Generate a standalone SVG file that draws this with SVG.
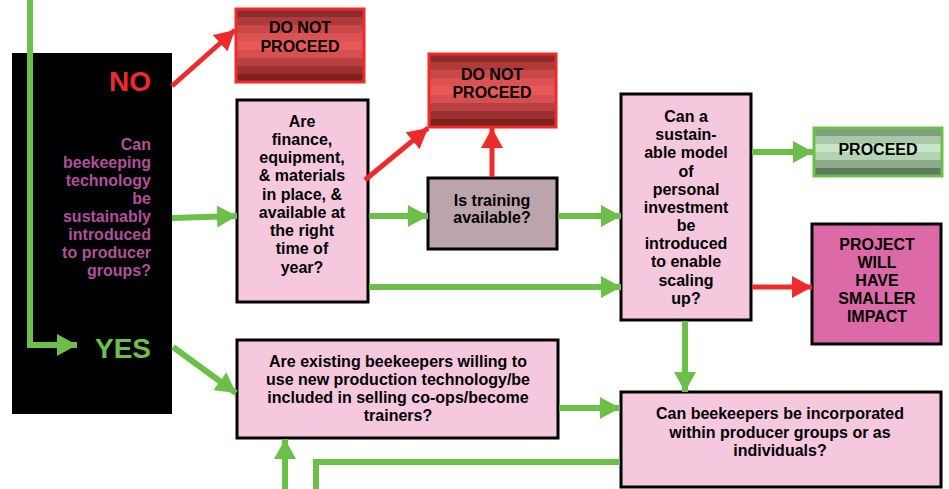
<svg xmlns="http://www.w3.org/2000/svg" width="949" height="489" viewBox="0 0 949 489">
<style>
  text { font-family: "Liberation Sans", Arial, sans-serif; font-weight: bold; }
  .t { font-size: 16px; fill: #000; text-anchor: middle; }
  .q { font-size: 16px; fill: #B0509A; text-anchor: end; }
  .pink { fill: #F6C8DD; stroke: #000; stroke-width: 3; }
  .g { stroke: #6CBF48; stroke-width: 6; fill: none; }
  .r { stroke: #EE2A2A; stroke-width: 5; fill: none; }
</style>
<defs>
  <linearGradient id="dnp" x1="0" y1="0" x2="0" y2="1">
    <stop offset="0" stop-color="#8C2B2B"/><stop offset="0.11" stop-color="#8C2B2B"/>
    <stop offset="0.11" stop-color="#B03A3A"/><stop offset="0.22" stop-color="#B03A3A"/>
    <stop offset="0.22" stop-color="#C94848"/><stop offset="0.33" stop-color="#C94848"/>
    <stop offset="0.33" stop-color="#DB5252"/><stop offset="0.44" stop-color="#DB5252"/>
    <stop offset="0.44" stop-color="#E85858"/><stop offset="0.56" stop-color="#E85858"/>
    <stop offset="0.56" stop-color="#D65050"/><stop offset="0.67" stop-color="#D65050"/>
    <stop offset="0.67" stop-color="#B94040"/><stop offset="0.78" stop-color="#B94040"/>
    <stop offset="0.78" stop-color="#9C3030"/><stop offset="0.89" stop-color="#9C3030"/>
    <stop offset="0.89" stop-color="#7E2020"/><stop offset="1" stop-color="#7E2020"/>
  </linearGradient>
  <linearGradient id="prc" x1="0" y1="0" x2="0" y2="1">
    <stop offset="0" stop-color="#7F9F80"/><stop offset="0.17" stop-color="#7F9F80"/>
    <stop offset="0.17" stop-color="#A8C8A8"/><stop offset="0.33" stop-color="#A8C8A8"/>
    <stop offset="0.33" stop-color="#C8E6C9"/><stop offset="0.5" stop-color="#C8E6C9"/>
    <stop offset="0.5" stop-color="#B3D3B3"/><stop offset="0.67" stop-color="#B3D3B3"/>
    <stop offset="0.67" stop-color="#8BAB8B"/><stop offset="0.83" stop-color="#8BAB8B"/>
    <stop offset="0.83" stop-color="#5F7A60"/><stop offset="1" stop-color="#5F7A60"/>
  </linearGradient>
  <marker id="ag" markerUnits="userSpaceOnUse" markerWidth="20" markerHeight="22" refX="20" refY="11" orient="auto">
    <path d="M0,0 L20,11 L0,22 z" fill="#6CBF48"/>
  </marker>
  <marker id="ar" markerUnits="userSpaceOnUse" markerWidth="20" markerHeight="22" refX="20" refY="11" orient="auto">
    <path d="M0,0 L20,11 L0,22 z" fill="#EE2A2A"/>
  </marker>
</defs>

<g id="start">
  <rect x="12" y="53" width="160" height="361" fill="#000"/>
  <text x="151" y="91" font-size="28" fill="#EE2A2A" text-anchor="end">NO</text>
  <text class="q" x="151" y="150">Can</text>
  <text class="q" x="151" y="168">beekeeping</text>
  <text class="q" x="151" y="186">technology</text>
  <text class="q" x="151" y="204">be</text>
  <text class="q" x="151" y="222">sustainably</text>
  <text class="q" x="151" y="240">introduced</text>
  <text class="q" x="151" y="258">to producer</text>
  <text class="q" x="151" y="276">groups?</text>
  <text x="151" y="358" font-size="28" fill="#6CBF48" text-anchor="end">YES</text>
</g>

<g id="dnp1">
  <rect x="236" y="9" width="128" height="73" fill="url(#dnp)" stroke="#EE2A2A" stroke-width="3"/>
  <text class="t" x="300" y="33">DO NOT</text>
  <text class="t" x="300" y="52">PROCEED</text>
</g>

<g id="finance">
  <rect class="pink" x="237" y="100" width="131" height="202"/>
  <text class="t" x="302" y="127">Are</text>
  <text class="t" x="302" y="145">finance,</text>
  <text class="t" x="302" y="163">equipment,</text>
  <text class="t" x="302" y="181">&amp; materials</text>
  <text class="t" x="302" y="200">in place, &amp;</text>
  <text class="t" x="302" y="218">available at</text>
  <text class="t" x="302" y="236">the right</text>
  <text class="t" x="302" y="254">time of</text>
  <text class="t" x="302" y="273">year?</text>
</g>

<g id="dnp2">
  <rect x="429" y="54" width="127" height="73" fill="url(#dnp)" stroke="#EE2A2A" stroke-width="3"/>
  <text class="t" x="492" y="80">DO NOT</text>
  <text class="t" x="492" y="98">PROCEED</text>
</g>

<g id="training">
  <rect x="428" y="178" width="129" height="71" fill="#BBA4AC" stroke="#000" stroke-width="3"/>
  <text class="t" x="492" y="206">Is training</text>
  <text class="t" x="492" y="223">available?</text>
</g>

<g id="sustain">
  <rect class="pink" x="621" y="94" width="130" height="226"/>
  <text class="t" x="686" y="122">Can a</text>
  <text class="t" x="686" y="140">sustain-</text>
  <text class="t" x="686" y="158">able model</text>
  <text class="t" x="686" y="177">of</text>
  <text class="t" x="686" y="195">personal</text>
  <text class="t" x="686" y="213">investment</text>
  <text class="t" x="686" y="231">be</text>
  <text class="t" x="686" y="249">introduced</text>
  <text class="t" x="686" y="267">to enable</text>
  <text class="t" x="686" y="286">scaling</text>
  <text class="t" x="686" y="304">up?</text>
</g>

<g id="proceed">
  <rect x="814" y="128" width="128" height="48" fill="url(#prc)" stroke="#6CBF48" stroke-width="3"/>
  <text class="t" x="878" y="155">PROCEED</text>
</g>

<g id="smaller">
  <rect x="812" y="224" width="129" height="120" fill="#DD6AA8" stroke="#000" stroke-width="3"/>
  <text class="t" x="877" y="250">PROJECT</text>
  <text class="t" x="877" y="268">WILL</text>
  <text class="t" x="877" y="286">HAVE</text>
  <text class="t" x="877" y="304">SMALLER</text>
  <text class="t" x="877" y="322">IMPACT</text>
</g>

<g id="existing">
  <rect class="pink" x="237" y="340" width="321" height="98"/>
  <text class="t" x="398" y="367">Are existing beekeepers willing to</text>
  <text class="t" x="398" y="385">use new production technology/be</text>
  <text class="t" x="398" y="403">included in selling co-ops/become</text>
  <text class="t" x="398" y="421">trainers?</text>
</g>

<g id="incorporate">
  <rect class="pink" x="621" y="392" width="320" height="95"/>
  <text class="t" x="780" y="419">Can beekeepers be incorporated</text>
  <text class="t" x="780" y="438">within producer groups or as</text>
  <text class="t" x="780" y="456">individuals?</text>
</g>

<g id="connectors">
  <polyline class="g" points="30,0 30,345 77,345" marker-end="url(#ag)"/>
  <line class="r" x1="172" y1="86" x2="235" y2="30" marker-end="url(#ar)"/>
  <line class="g" x1="172" y1="218" x2="237" y2="216" marker-end="url(#ag)"/>
  <line class="r" x1="365" y1="180" x2="428" y2="128" marker-end="url(#ar)"/>
  <line class="g" x1="369" y1="216" x2="428" y2="216" marker-end="url(#ag)"/>
  <line class="r" x1="492" y1="177" x2="492" y2="128" marker-end="url(#ar)"/>
  <line class="g" x1="558" y1="216" x2="621" y2="216" marker-end="url(#ag)"/>
  <line class="g" x1="369" y1="287" x2="621" y2="287" marker-end="url(#ag)"/>
  <line class="g" x1="752" y1="152" x2="813" y2="152" marker-end="url(#ag)"/>
  <line class="r" x1="752" y1="287" x2="812" y2="287" marker-end="url(#ar)"/>
  <line class="g" x1="685" y1="321" x2="685" y2="392" marker-end="url(#ag)"/>
  <line class="g" x1="173" y1="347" x2="236" y2="393" marker-end="url(#ag)"/>
  <line class="g" x1="559" y1="408" x2="620" y2="408" marker-end="url(#ag)"/>
  <polyline class="g" points="620,462 316,462 316,489"/>
  <line class="g" x1="285" y1="489" x2="285" y2="439" marker-end="url(#ag)"/>
</g>
</svg>
